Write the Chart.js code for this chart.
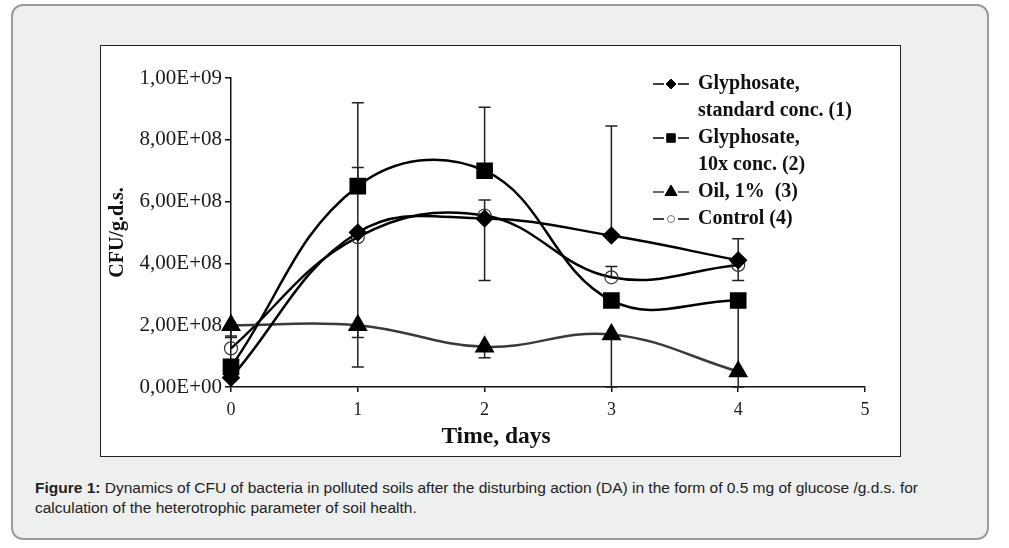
<!DOCTYPE html>
<html>
<head>
<meta charset="utf-8">
<script src="https://cdn.jsdelivr.net/npm/chart.js@4.4.1/dist/chart.umd.min.js"></script>
<style>
  body { margin: 0; background: #fff; width: 1009px; height: 548px; position: relative; overflow: hidden; }
  .frame { position: absolute; left: 11px; top: 4px; width: 978px; height: 536px; box-sizing: border-box;
           border: 2px solid #9a9a9a; border-radius: 12px; background: #eeefef; }
  .figure { position: absolute; left: 100px; top: 45px; width: 801px; height: 412px; box-sizing: border-box;
            border: 1px solid #222; background: #fff; }
  .figure canvas { position: absolute; left: 0; top: 0; }
  .caption { position: absolute; left: 35px; top: 478px; font-family: "Liberation Sans", Arial, sans-serif;
             font-size: 15.5px; line-height: 20px; color: #222; white-space: nowrap; }
</style>
</head>
<body>
<div class="frame"></div>
<div class="figure"><canvas id="myChart" width="799" height="410" style="width:799px;height:410px"></canvas></div>
<div class="caption"><b>Figure 1:</b> Dynamics of CFU of bacteria in polluted soils after the disturbing action (DA) in the form of 0.5 mg of glucose /g.d.s. for<br>calculation of the heterotrophic parameter of soil health.</div>
<script>
const days = [0, 1, 2, 3, 4];
const xTicks = [0, 1, 2, 3, 4, 5];

const glyStd = [0.3e8, 5.0e8, 5.45e8, 4.9e8, 4.1e8];
const gly10x = [0.65e8, 6.5e8, 7.0e8, 2.8e8, 2.8e8];
const oil = [2.0e8, 2.0e8, 1.3e8, 1.7e8, 0.5e8];
const control = [1.25e8, 4.85e8, 5.55e8, 3.55e8, 3.95e8];

// error bars as [minus, plus]
const glyStdErr = [[0, 0], [4.35e8, 4.2e8], [2.0e8, 0], [0, 3.55e8], [0, 0.7e8]];
const gly10xErr = [[0, 0], [0, 0.6e8], [0, 2.05e8], [0, 0], [2.8e8, 0]];
const oilErr = [[0.4e8, 0], [0.4e8, 0], [0.35e8, 0], [1.7e8, 0], [0, 0]];
const controlErr = [[0, 0.4e8], [0, 0], [0, 0.5e8], [0, 0.35e8], [0.5e8, 0]];

const legendLabels = [
    ["Glyphosate,", "standard conc. (1)"],
    ["Glyphosate,", "10x conc. (2)"],
    ["Oil, 1%  (3)"],
    ["Control (4)"],
];

const serif = "'Liberation Serif', 'Times New Roman', serif";

function sci(v) {
    if (v === 0) return "0,00E+00";
    const e = Math.floor(Math.log10(v) + 1e-9);
    const m = v / Math.pow(10, e);
    return m.toFixed(2).replace(".", ",") + "E+" + String(e).padStart(2, "0");
}

function pts(vals) {
    return vals.map((v, i) => ({ x: days[i], y: v }));
}

const errorBars = {
    id: "errorBars",
    beforeDatasetsDraw(chart) {
        const { ctx, scales: { x, y } } = chart;
        ctx.save();
        ctx.strokeStyle = "#222";
        ctx.lineWidth = 1.5;
        chart.data.datasets.forEach(ds => {
            ds.errors.forEach((e, i) => {
                const px = x.getPixelForValue(days[i]);
                const v = ds.data[i].y;
                [[v - e[0], e[0]], [v + e[1], e[1]]].forEach(([end, len]) => {
                    if (!len) return;
                    const py0 = y.getPixelForValue(v);
                    const py1 = y.getPixelForValue(Math.max(end, 0));
                    ctx.beginPath();
                    ctx.moveTo(px, py0);
                    ctx.lineTo(px, py1);
                    ctx.moveTo(px - 6, py1);
                    ctx.lineTo(px + 6, py1);
                    ctx.stroke();
                });
            });
        });
        ctx.restore();
    }
};

const extras = {
    id: "extras",
    afterDraw(chart) {
        const { ctx, chartArea } = chart;
        ctx.save();
        // x axis title
        ctx.fillStyle = "#111";
        ctx.font = "bold 23.5px " + serif;
        ctx.textAlign = "center";
        ctx.textBaseline = "middle";
        ctx.fillText("Time, days", chartArea.left + 265, chartArea.bottom + 50);

        // legend
        let rowY = chartArea.top + 6;
        const symX = chartArea.right - 194;
        const textX = chartArea.right - 167;
        ctx.textAlign = "left";
        ctx.font = "bold 20px " + serif;
        chart.data.datasets.forEach((ds, i) => {
            ctx.strokeStyle = ds.borderColor;
            ctx.lineWidth = 1.5;
            ctx.beginPath();
            ctx.moveTo(symX - 18, rowY);
            ctx.lineTo(symX - 7, rowY);
            ctx.moveTo(symX + 7, rowY);
            ctx.lineTo(symX + 18, rowY);
            ctx.stroke();
            ctx.fillStyle = ds.legendFill;
            ctx.strokeStyle = ds.legendStroke;
            ctx.lineWidth = 1;
            Chart.helpers.drawPoint(ctx, {
                pointStyle: ds.pointStyle, rotation: 0,
                radius: ds.legendRadius, borderWidth: 1
            }, symX, rowY);
            ctx.fillStyle = "#111";
            legendLabels[i].forEach(line => {
                ctx.fillText(line, textX, rowY);
                rowY += 27;
            });
        });
        ctx.restore();
    }
};

const ctx = document.getElementById("myChart").getContext("2d");
const myChart = new Chart(ctx, {
    type: "line",
    data: {
        datasets: [
            {
                label: "Glyphosate, standard conc. (1)",
                data: pts(glyStd),
                errors: glyStdErr,
                borderColor: "#000",
                borderWidth: 2.5,
                pointStyle: "rectRot",
                pointRadius: 7.5,
                pointBackgroundColor: "#000",
                pointBorderColor: "#000",
                legendRadius: 5, legendFill: "#000", legendStroke: "#000",
            },
            {
                label: "Glyphosate, 10x conc. (2)",
                data: pts(gly10x),
                errors: gly10xErr,
                borderColor: "#000",
                borderWidth: 2.5,
                pointStyle: "rect",
                pointRadius: 10,
                pointBackgroundColor: "#000",
                pointBorderColor: "#000",
                legendRadius: 6, legendFill: "#000", legendStroke: "#000",
            },
            {
                label: "Oil, 1% (3)",
                data: pts(oil),
                errors: oilErr,
                borderColor: "#3a3a3a",
                borderWidth: 2.5,
                pointStyle: "triangle",
                pointRadius: 9,
                pointBackgroundColor: "#000",
                pointBorderColor: "#000",
                legendRadius: 7, legendFill: "#000", legendStroke: "#000",
            },
            {
                label: "Control (4)",
                data: pts(control),
                errors: controlErr,
                borderColor: "#000",
                borderWidth: 2.5,
                pointStyle: "circle",
                pointRadius: 6.5,
                pointBorderWidth: 1.2,
                pointBackgroundColor: "rgba(255,255,255,0)",
                pointBorderColor: "#333",
                legendRadius: 3.5, legendFill: "#fff", legendStroke: "#777",
            },
        ],
    },
    options: {
        responsive: false,
        animation: false,
        events: [],
        clip: false,
        elements: {
            line: { tension: 0.4, fill: false },
        },
        layout: {
            padding: { top: 32, right: 35, bottom: 0, left: 0 },
        },
        plugins: {
            legend: { display: false },
            tooltip: { enabled: false },
        },
        scales: {
            x: {
                type: "linear",
                min: 0,
                max: 5,
                afterBuildTicks: axis => { axis.ticks = xTicks.map(v => ({ value: v })); },
                afterFit: axis => { axis.height = 69; },
                grid: { drawOnChartArea: false, drawTicks: true, tickLength: 5, color: "#111", lineWidth: 1.5 },
                border: { display: true, color: "#111", width: 1.5 },
                ticks: { color: "#1a1a1a", padding: 7, font: { family: serif, size: 18 } },
            },
            y: {
                min: 0,
                max: 1e9,
                ticks: {
                    stepSize: 2e8,
                    color: "#1a1a1a",
                    padding: 3,
                    font: { family: serif, size: 21 },
                    callback: v => sci(v),
                },
                afterFit: axis => { axis.width = 130; },
                grid: { drawOnChartArea: false, drawTicks: true, tickLength: 6, color: "#111", lineWidth: 1.5 },
                border: { display: true, color: "#111", width: 1.5 },
                title: {
                    display: true,
                    text: "CFU/g.d.s.",
                    color: "#111",
                    padding: 5,
                    font: { family: serif, size: 20, weight: "bold" },
                },
            },
        },
    },
    plugins: [errorBars, extras],
});
</script>
</body>
</html>
